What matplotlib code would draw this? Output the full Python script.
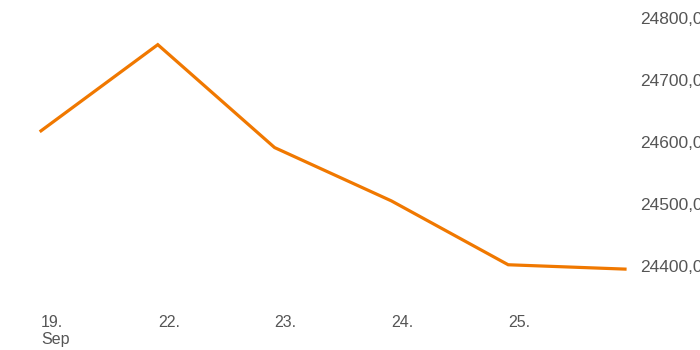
import matplotlib
matplotlib.use("Agg")
from matplotlib import pyplot as plt
import matplotlib.ticker as tck

plt.rcParams['font.family'] = ['Liberation Sans', 'DejaVu Sans']

# Data
day_labels = ["19.\nSep", "22.", "23.", "24.", "25.", "26."]
prices = [24618, 24757, 24591, 24505, 24402, 24395]
y_ticks = [24400, 24500, 24600, 24700, 24800]

W, H = 700, 350
fig = plt.figure(figsize=(7, 3.5), dpi=100)
# axes spans pixels x 0..630, y 0..300
ax = fig.add_axes([0, 50 / H, 630 / W, 300 / H])

x = list(range(len(prices)))
ax.plot(x, prices, color='#F07800', linewidth=2.3, solid_joinstyle='miter', clip_on=False)

px_per_x = 116.8
ax.set_xlim(-41 / px_per_x, (630 - 41) / px_per_x)
px_per_y = 0.62
ax.set_ylim(24800 - 282 / px_per_y, 24800 + 18 / px_per_y)

for s in ax.spines.values():
    s.set_visible(False)

ax.yaxis.tick_right()
ax.set_yticks(y_ticks)
ax.yaxis.set_major_formatter(tck.FuncFormatter(lambda v, p: '{:.2f}'.format(v).replace('.', ',')))
ax.tick_params(axis='y', length=0, pad=7, labelsize=12.5, labelcolor='#555555')

ax.set_xticks(x[:5])
ax.set_xticklabels(day_labels[:5])
ax.tick_params(axis='x', length=0, pad=11, labelsize=11.5, labelcolor='#555555')
for lbl in ax.get_xticklabels():
    lbl.set_horizontalalignment('left')
    lbl.set_linespacing(1.15)

fig.savefig('out.png', dpi=100)
